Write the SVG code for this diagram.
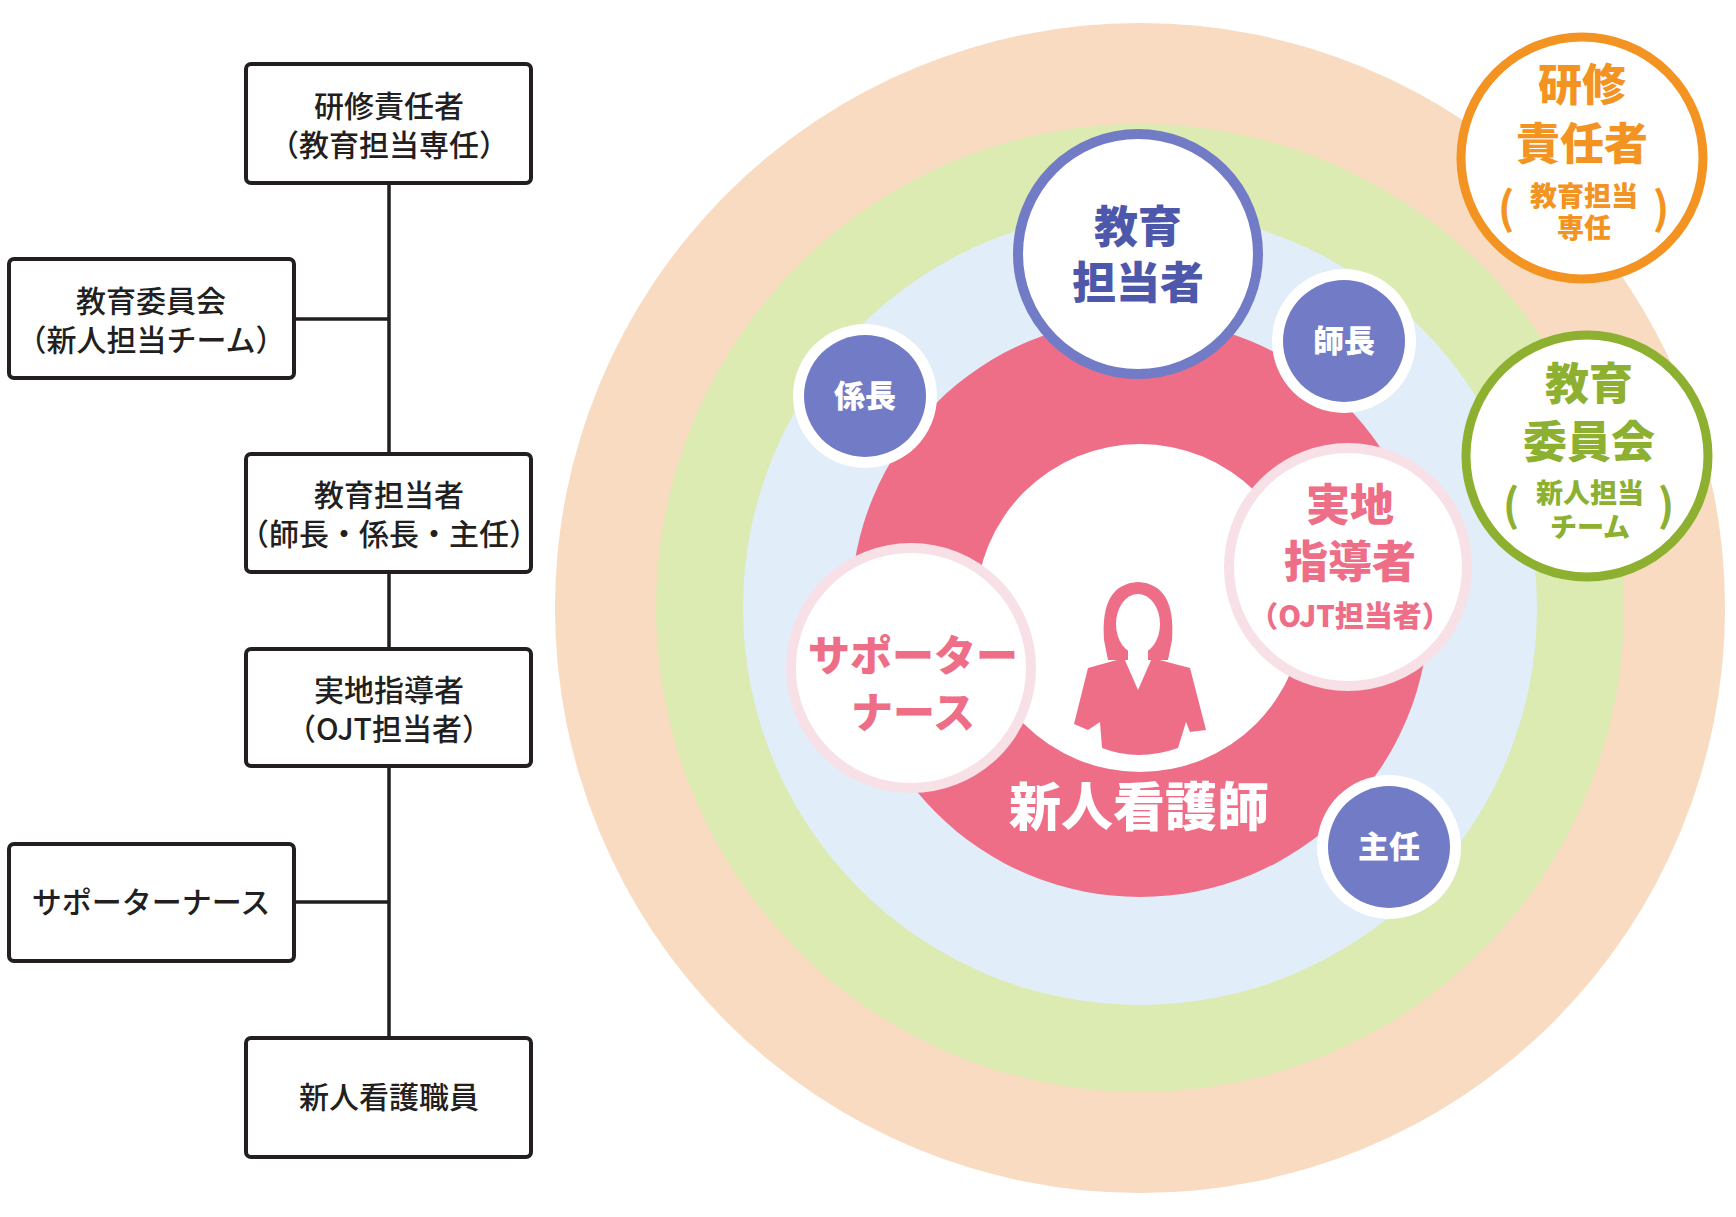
<svg xmlns="http://www.w3.org/2000/svg" width="1736" height="1217" viewBox="0 0 1736 1217">
<style>
text{font-family:"Noto Sans CJK JP","Noto Sans",sans-serif;text-anchor:middle}
.box{fill:#fff;stroke:#231f20;stroke-width:4}
.bt{font-size:30px;fill:#231f20;font-weight:500}
.ln{stroke:#231f20;stroke-width:3.5;fill:none}
.b{font-weight:900}
.wt{fill:#fff;font-size:31px;font-weight:900}
.pur{fill:#727bc6}
</style>
<rect width="1736" height="1217" fill="#fff"/>
<g id="connectors">
<path class="ln" d="M389 183V454M389 572V649M389 766V1038M294 319H389M294 902H389"/>
</g>
<g id="box1"><rect class="box" x="246" y="64" width="285" height="119" rx="5"/><text class="bt" x="389" y="117">研修責任者</text><text class="bt" x="389" y="156">（教育担当専任）</text></g>
<g id="box2"><rect class="box" x="9" y="259" width="285" height="119" rx="5"/><text class="bt" x="151" y="312">教育委員会</text><text class="bt" x="151" y="351">（新人担当チーム）</text></g>
<g id="box3"><rect class="box" x="246" y="454" width="285" height="118" rx="5"/><text class="bt" x="389" y="506">教育担当者</text><text class="bt" x="389" y="545">（師長・係長・主任）</text></g>
<g id="box4"><rect class="box" x="246" y="649" width="285" height="117" rx="5"/><text class="bt" x="389" y="701">実地指導者</text><text class="bt" x="389" y="740">（OJT担当者）</text></g>
<g id="box5"><rect class="box" x="9" y="844" width="285" height="117" rx="5"/><text class="bt" x="151" y="913">サポーターナース</text></g>
<g id="box6"><rect class="box" x="246" y="1038" width="285" height="119" rx="5"/><text class="bt" x="389" y="1108">新人看護職員</text></g>

<g id="rings">
<circle cx="1140" cy="608" r="585" fill="#f8dbc0"/>
<circle cx="1140" cy="608" r="484" fill="#dcebb1"/>
<circle cx="1140" cy="608" r="397" fill="#e1edf9"/>
<circle cx="1140" cy="608" r="289" fill="#ee6d87"/>
<circle cx="1140" cy="608" r="164" fill="#fff"/>
</g>
<g id="nurse" fill="#ee6d87">
<path d="M1104 640 Q1100 584 1138 582 Q1176 584 1172 640 L1168 660 L1108 660 Z"/>
<ellipse cx="1138" cy="624" rx="22" ry="30" fill="#fff"/>
<rect x="1128" y="645" width="20" height="22" fill="#fff"/>
<path d="M1088 668 L1124 658 L1138 690 L1152 658 L1190 668 L1206 730 L1190 732 L1186 722 L1178 748 Q1138 762 1102 748 L1100 722 L1088 730 L1074 724 Z"/>
</g>
<g id="n-shinjin"><text class="b" x="1139" y="826" font-size="52" fill="#fff">新人看護師</text></g>

<g id="n-kyouiku"><circle cx="1138" cy="254" r="120" fill="#fff" stroke="#727bc6" stroke-width="10"/>
<text class="b" x="1138" y="243" font-size="44" fill="#4e58ab">教育</text><text class="b" x="1138" y="299" font-size="44" fill="#4e58ab">担当者</text></g>
<g id="n-shichou"><circle cx="1344" cy="341" r="72" fill="#fff"/><circle class="pur" cx="1344" cy="341" r="61"/><text class="wt" x="1344" y="352">師長</text></g>
<g id="n-kakarichou"><circle cx="865" cy="396" r="72" fill="#fff"/><circle class="pur" cx="865" cy="396" r="61"/><text class="wt" x="865" y="407">係長</text></g>
<g id="n-shunin"><circle cx="1389" cy="847" r="72" fill="#fff"/><circle class="pur" cx="1389" cy="847" r="61"/><text class="wt" x="1389" y="858">主任</text></g>

<g id="n-jicchi"><circle cx="1348" cy="567" r="119" fill="#fff" stroke="#f7e1e7" stroke-width="10"/>
<text class="b" x="1350" y="521" font-size="44" fill="#ee6d87">実地</text><text class="b" x="1350" y="578" font-size="44" fill="#ee6d87">指導者</text><text class="b" x="1350" y="627" font-size="29" fill="#ee6d87">（OJT担当者）</text></g>
<g id="n-supporter"><circle cx="911" cy="668" r="120" fill="#fff" stroke="#f7e1e7" stroke-width="10"/>
<text class="b" x="913" y="671" font-size="42" fill="#ee6d87">サポーター</text><text class="b" x="913" y="728" font-size="42" fill="#ee6d87">ナース</text></g>

<g id="n-kenshu"><circle cx="1582" cy="158" r="121" fill="#fff" stroke="#f39322" stroke-width="9"/>
<g fill="#f39322"><text class="b" x="1582" y="101" font-size="44">研修</text><text class="b" x="1582" y="160" font-size="44">責任者</text>
<text class="b" x="1584" y="206" font-size="27">教育担当</text><text class="b" x="1584" y="238" font-size="27">専任</text>
<text x="1506" y="224" font-size="44" font-weight="700">(</text><text x="1661" y="224" font-size="44" font-weight="700">)</text></g></g>
<g id="n-iinkai"><circle cx="1587" cy="456" r="121" fill="#fff" stroke="#8db030" stroke-width="9"/>
<g fill="#8db030"><text class="b" x="1589" y="400" font-size="44">教育</text><text class="b" x="1589" y="458" font-size="44">委員会</text>
<text class="b" x="1590" y="503" font-size="27">新人担当</text><text class="b" x="1590" y="537" font-size="27">チーム</text>
<text x="1511" y="521" font-size="44" font-weight="700">(</text><text x="1666" y="521" font-size="44" font-weight="700">)</text></g></g>
</svg>
